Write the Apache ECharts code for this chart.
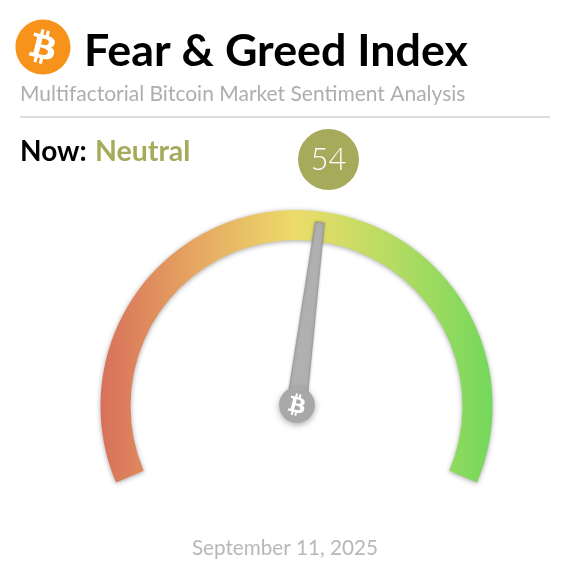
<!DOCTYPE html>
<html><head><meta charset="utf-8">
<style>html,body{margin:0;padding:0;background:#fff}#c{width:570px;height:570px}</style>
<script src="https://cdn.jsdelivr.net/npm/echarts@6/dist/echarts.min.js"></script>
</head><body><div id="c"></div>
<script>
const titleText = 'Fear & Greed Index';
const subtitleText = 'Multifactorial Bitcoin Market Sentiment Analysis';
const nowLabel = 'Now:';
const sentiment = 'Neutral';
const indexValue = [54];
const dateText = 'September 11, 2025';
const gaugeRange = [0, 101.5];
const gaugeStops = [[0,'#d8705a'],[0.25,'#e6a862'],[0.5,'#ecdc6a'],[0.72,'#bcdc62'],[1,'#74d85c']];
const BTC = 'M504 256c0 136.967-111.033 248-248 248S8 392.967 8 256 119.033 8 256 8s248 111.033 248 248zm-141.651-35.33c4.937-32.999-20.191-50.739-54.55-62.573l11.146-44.702-27.213-6.781-10.851 43.524c-7.154-1.783-14.502-3.464-21.803-5.13l10.929-43.81-27.198-6.781-11.153 44.686c-5.922-1.349-11.735-2.682-17.377-4.084l.031-.14-37.53-9.37-7.239 29.062s20.191 4.627 19.765 4.913c11.022 2.751 13.014 10.044 12.68 15.825l-12.696 50.925c.76.194 1.744.473 2.829.907-.907-.225-1.876-.473-2.876-.713l-17.796 71.338c-1.349 3.348-4.767 8.37-12.471 6.464.271.395-19.78-4.937-19.78-4.937l-13.51 31.147 35.414 8.827c6.588 1.651 13.045 3.379 19.4 5.006l-11.262 45.213 27.182 6.781 11.153-44.733a1038.209 1038.209 0 0 0 21.687 5.627l-11.115 44.523 27.213 6.781 11.262-45.128c46.404 8.781 81.299 5.239 95.986-36.727 11.836-33.79-.589-53.281-25.004-65.991 17.78-4.098 31.174-15.792 34.747-39.949zm-62.177 87.179c-8.41 33.79-65.308 15.523-83.755 10.943l14.944-59.899c18.446 4.603 77.6 13.717 68.811 48.956zm8.417-87.667c-7.673 30.736-55.031 15.12-70.393 11.292l13.548-54.327c15.363 3.828 64.836 10.973 56.845 43.035z';
const F = 'Lato, Carlito, sans-serif';
const CX = 296.5, CY = 406;

echarts.graphic.registerShape('btcIcon', echarts.graphic.extendPath(BTC, {}));

function logo(cx, cy, r, color, z, shadow) {
  const s = r / 248;
  return [
    {type:'circle', z:z, shape:{cx, cy, r:r-0.3}, style:{fill:'#fff', shadowBlur:shadow?6:0, shadowColor:'rgba(0,0,0,.35)', shadowOffsetY:shadow?2:0}},
    {type:'btcIcon', z:z+1, x:cx-256*s, y:cy-256*s, scaleX:s, scaleY:s, style:{fill:color}}
  ];
}
function txt(x, y, text, font, fill, align) {
  return {type:'text', z:5, x, y, style:{text, font, fill, align:align||'left', verticalAlign:'middle'}};
}
const chart = echarts.init(document.getElementById('c'), null, {renderer:'canvas'});
chart.setOption({
  animation:false,
  series:[{
    type:'gauge',
    center:[CX,CY], radius:196,
    startAngle:203, endAngle:-23,
    min:gaugeRange[0], max:gaugeRange[1],
    axisLine:{roundCap:false, lineStyle:{width:30,
      color:[[1,new echarts.graphic.LinearGradient(0,0,1,0,gaugeStops.map(s=>({offset:s[0],color:s[1]})))]],
      shadowBlur:5, shadowColor:'rgba(0,0,0,.35)', shadowOffsetY:1}},
    axisTick:{show:false}, splitLine:{show:false}, axisLabel:{show:false},
    progress:{show:false}, title:{show:false},
    pointer:{icon:'path://M5.5 0 L14.5 0 L20 100 L0 100 Z', length:185, width:20,
      itemStyle:{color:'#b0b0b0', borderColor:'#8f8f8f', borderWidth:0.6, shadowBlur:3, shadowColor:'rgba(0,0,0,.25)'}},
    anchor:{show:false},
    detail:{valueAnimation:false, offsetCenter:[32,-246.5], width:61, height:61, lineHeight:61, padding:0,
      borderRadius:30.5, backgroundColor:'#a5ab5b', color:'#fff',
      fontFamily:F, fontWeight:300, fontSize:31, formatter:'{value}'},
    data:[{value:indexValue[0]}]
  }],
  graphic:[
    ...logo(43,47,27.5,'#f7931a',5,false),
    txt(84,52,titleText,'700 44.8px '+F,'#000'),
    txt(20,94,subtitleText,'400 21px '+F,'#aeaeae'),
    {type:'rect', z:5, shape:{x:20,y:116,width:530,height:2}, style:{fill:'#dddddd'}},
    txt(20,152,nowLabel,'700 28px '+F,'#000'),
    txt(95,152,sentiment,'700 28.5px '+F,'#a5ab5b'),
    txt(285,548,dateText,'400 20.7px '+F,'#b8b8b8','center'),
    ...logo(297,405,18,'#a8a8a8',6,true)
  ]
});
</script></body></html>
